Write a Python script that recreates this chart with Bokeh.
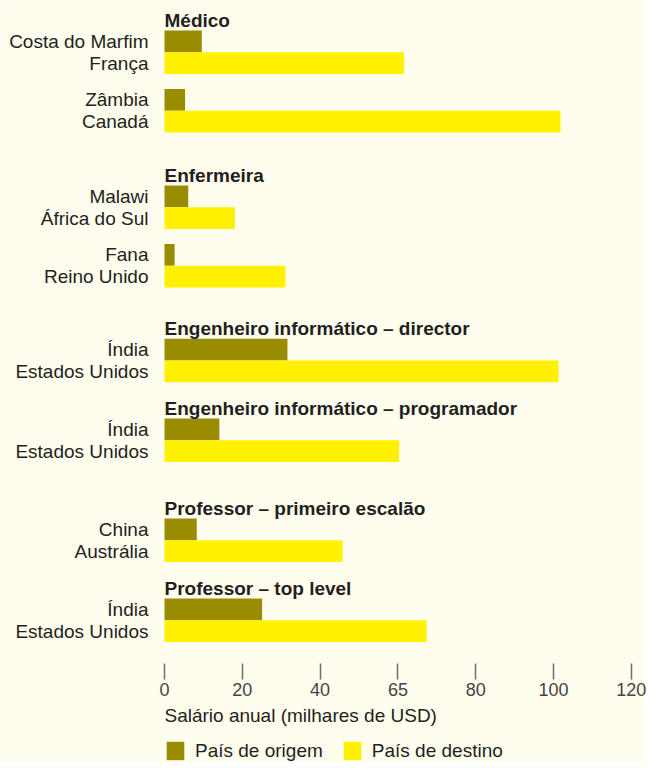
from bokeh.plotting import figure
from bokeh.models import Range1d, FixedTicker, Legend, LegendItem, Label
from bokeh.core.properties import value
from bokeh.embed import file_html
from bokeh.resources import INLINE

# ---------------- data ----------------
groups = [
    "Médico",
    "Enfermeira",
    "Engenheiro informático – director",
    "Engenheiro informático – programador",
    "Professor – primeiro escalão",
    "Professor – top level",
]
pair_group = [0, 0, 1, 1, 2, 3, 4, 5]
origin_countries = ["Costa do Marfim", "Zâmbia", "Malawi", "Fana",
                    "Índia", "Índia", "China", "Índia"]
dest_countries = ["França", "Canadá", "África do Sul", "Reino Unido",
                  "Estados Unidos", "Estados Unidos", "Austrália", "Estados Unidos"]
origin_salary = [9.6, 5.3, 6.1, 2.6, 31.6, 14.1, 8.3, 25.1]
dest_salary = [61.6, 101.8, 18.1, 31.1, 101.3, 60.3, 45.8, 67.4]

tick_values = [0, 20, 40, 60, 80, 100, 120]
tick_labels = ["0", "20", "40", "65", "80", "100", "120"]

x_title = "Salário anual (milhares de USD)"
legend_labels = ["País de origem", "País de destino"]

# ---------------- style / layout ----------------
BG = "#fffdee"
OLIVE = "#9a8c00"
YELLOW = "#fff100"
DARK = "#231f20"
FONT = "Liberation Sans"

W, H = 646, 762
X0_PX = 164.0          # screen position of x = 0 inside the figure
PX_PER_UNIT = 3.89

BAR_H = 21.7
FIRST_TOP = 30.0
PAIR_GAP = 15.2
GROUP_GAPS = [0, 53.0, 51.3, 36.3, 56.6, 36.6]
HEADER_LIFT = 10.0
AXIS_GAP = 21.6
TITLE_OFFSET = 52.0

# layout computation (vertical coordinates are screen pixels from the top)
origin_y, dest_y, header_y = [], [], []
cursor = FIRST_TOP
prev = None
for g in pair_group:
    if g != prev:
        if prev is not None:
            cursor += GROUP_GAPS[g]
        header_y.append(cursor - HEADER_LIFT)
        prev = g
    else:
        cursor += PAIR_GAP
    origin_y.append(cursor + BAR_H / 2)
    dest_y.append(cursor + 1.5 * BAR_H)
    cursor += 2 * BAR_H
axis_y = cursor + AXIS_GAP

p = figure(
    width=W, height=H,
    output_backend="svg", toolbar_location=None,
    x_range=Range1d(-X0_PX / PX_PER_UNIT, (W - X0_PX) / PX_PER_UNIT),
    y_range=Range1d(H, 0),
    min_border=0,
)
p.background_fill_color = BG
p.border_fill_color = BG
p.outline_line_color = None
p.xgrid.visible = False
p.ygrid.visible = False

r_origin = p.hbar(y=origin_y, left=0, right=origin_salary, height=BAR_H,
                  fill_color=OLIVE, line_color=None)
r_dest = p.hbar(y=dest_y, left=0, right=dest_salary, height=BAR_H,
                fill_color=YELLOW, line_color=None)

# group headers
p.text(x=[0] * len(groups), y=header_y, text=groups,
       text_font=value(FONT), text_font_style="bold", text_font_size="19px",
       text_color=DARK, text_align="left", text_baseline="middle")

# x axis
xa = p.xaxis[0]
xa.fixed_location = axis_y
xa.ticker = FixedTicker(ticks=tick_values)
xa.major_label_overrides = dict(zip(tick_values, tick_labels))
xa.axis_line_color = None
xa.major_tick_in = 0
xa.major_tick_out = 16
xa.major_tick_line_color = "#6e6e6e"
xa.major_tick_line_width = 1.5
xa.minor_tick_in = 0
xa.minor_tick_out = 0
xa.major_label_standoff = 3
xa.major_label_text_font = FONT
xa.major_label_text_font_size = "18px"
xa.major_label_text_color = "#444444"

# y axis: country labels
ya = p.yaxis[0]
ya.fixed_location = 0
ya.ticker = FixedTicker(ticks=origin_y + dest_y)
ya.major_label_overrides = dict(zip(origin_y + dest_y, origin_countries + dest_countries))
ya.axis_line_color = None
ya.major_tick_in = 0
ya.major_tick_out = 0
ya.minor_tick_in = 0
ya.minor_tick_out = 0
ya.major_label_standoff = 16
ya.major_label_text_font = FONT
ya.major_label_text_font_size = "19px"
ya.major_label_text_color = DARK

# x title
p.add_layout(Label(x=0, y=axis_y + TITLE_OFFSET, text=x_title,
                   text_font=FONT, text_font_size="19px", text_color=DARK,
                   text_align="left", text_baseline="middle"))

legend = Legend(
    items=[LegendItem(label=legend_labels[0], renderers=[r_origin]),
           LegendItem(label=legend_labels[1], renderers=[r_dest])],
    orientation="horizontal", location=(X0_PX, 0),
    glyph_width=22, glyph_height=23, label_standoff=9, spacing=18,
    padding=0, margin=0, background_fill_alpha=0, border_line_color=None,
    label_text_font=FONT, label_text_font_size="19px", label_text_color=DARK,
)
p.add_layout(legend)

open("out.html", "w").write(file_html(p, INLINE))
